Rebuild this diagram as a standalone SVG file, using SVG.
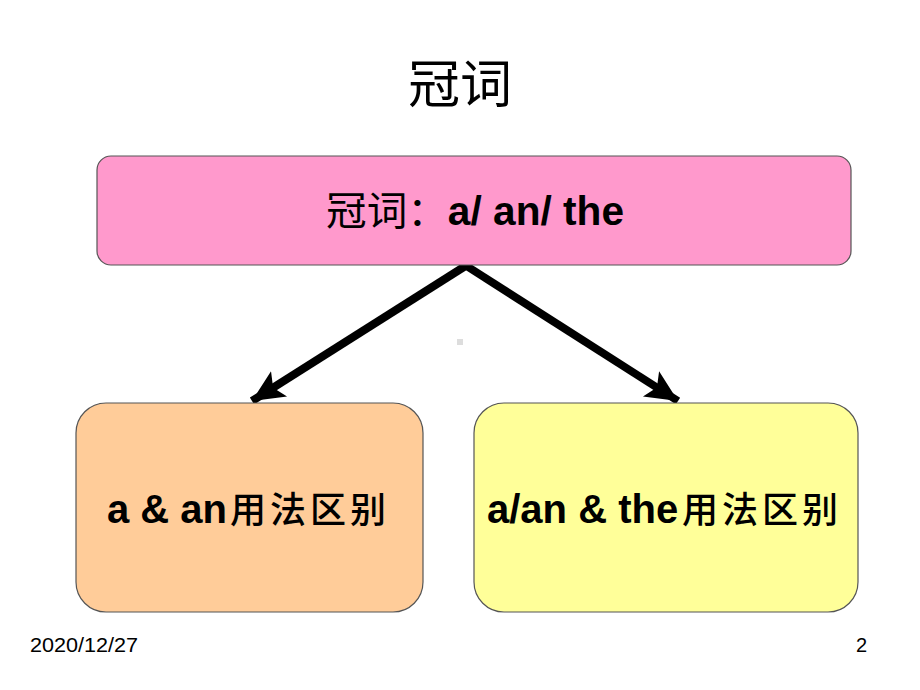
<svg xmlns="http://www.w3.org/2000/svg" width="920" height="690" viewBox="0 0 920 690">
<defs>
<style>
.box{stroke:#555;stroke-width:1.2}
.lbl{font-family:"Liberation Sans","Noto Sans CJK SC",sans-serif;font-weight:bold;fill:#000}
.cjk{font-family:"Noto Sans CJK SC",sans-serif;font-weight:normal}
.kid{font-size:40px}
.kcjk{font-family:"Noto Sans CJK SC",sans-serif;font-weight:500;font-size:36px;letter-spacing:4px}
.foot{font-family:"Liberation Sans",sans-serif;font-size:20px;fill:#000}
.conn{stroke:#000;stroke-width:8;fill:none}
</style>
<marker id="ah" markerUnits="userSpaceOnUse" markerWidth="36" markerHeight="36" viewBox="0 0 36 36" refX="32" refY="18" orient="auto">
<path d="M0,3 L32,18 L0,33 L7,18 Z" fill="#000"/>
</marker>
</defs>
<rect width="920" height="690" fill="#fff"/>
<text x="460" y="103" font-family="Noto Sans CJK SC,sans-serif" font-size="52" text-anchor="middle" fill="#000">冠词</text>
<g id="connectors">
<line class="conn" x1="467" y1="265" x2="252" y2="401" marker-end="url(#ah)"/>
<line class="conn" x1="465" y1="265" x2="678" y2="401" marker-end="url(#ah)"/>
</g>
<rect x="457" y="339" width="6" height="6" fill="#ddd"/>
<g id="root">
<rect class="box" x="97" y="156" width="754" height="109" rx="14" fill="#FF99CC"/>
<text class="lbl" x="326" y="225" font-size="40" textLength="298" lengthAdjust="spacingAndGlyphs"><tspan class="cjk">冠词：</tspan>a/ an/ the</text>
</g>
<g id="left">
<rect class="box" x="76" y="403" width="347" height="209" rx="30" fill="#FFCC99"/>
<text class="lbl kid" x="107" y="523">a &amp; an<tspan class="kcjk" x="230">用法区别</tspan></text>
</g>
<g id="right">
<rect class="box" x="474" y="403" width="384" height="209" rx="30" fill="#FFFF99"/>
<text class="lbl kid" x="487" y="523">a/an &amp; the<tspan class="kcjk" x="682">用法区别</tspan></text>
</g>
<text class="foot" x="30" y="652" textLength="108" lengthAdjust="spacingAndGlyphs">2020/12/27</text>
<text class="foot" x="856" y="652">2</text>
</svg>
